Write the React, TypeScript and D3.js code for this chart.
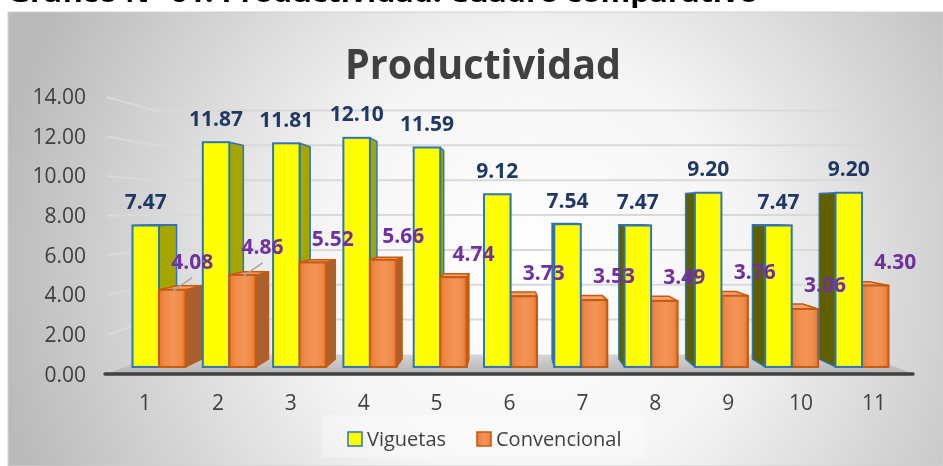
import React, { useRef, useEffect } from 'react'
import * as d3 from 'd3'

const categories = ['1', '2', '3', '4', '5', '6', '7', '8', '9', '10', '11']
const viguetas = [7.47, 11.87, 11.81, 12.10, 11.59, 9.12, 7.54, 7.47, 9.20, 7.47, 9.20]
const convencional = [4.08, 4.86, 5.52, 5.66, 4.74, 3.73, 3.53, 3.49, 3.76, 3.06, 4.30]
const yTicks = [0, 2, 4, 6, 8, 10, 12, 14]
const seriesNames = ['Viguetas', 'Convencional']
const chartTitle = 'Productividad'
const pageHeading = 'Gráfico N° 01: Productividad: Cuadro comparativo'
// labels that were dragged up in the original, with a leader line
const leaderLabels = [0, 1]

const App = () => {
    const ref = useRef<SVGSVGElement>(null)
    useEffect(() => {
        const w = 943
        const h = 466
        const svg = d3.select(ref.current)
        svg.selectAll('*').remove()
        svg.attr('width', w).attr('height', h)

        const font = "'Open Sans', 'Liberation Sans', sans-serif"
        const vp = [510, 210] // vanishing point of the 3d box
        const wallK = 0.881 // back wall relative to front plane
        const barK = 0.957 // bar front faces relative to front plane
        const depthK = 0.95 // bar depth
        const proj = (x: number, y: number, k: number) => [vp[0] + (x - vp[0]) * k, vp[1] + (y - vp[1]) * k]

        const defs = svg.append('defs')
        const bg = defs.append('radialGradient').attr('id', 'bg')
            .attr('gradientUnits', 'userSpaceOnUse')
            .attr('cx', 530).attr('cy', 270).attr('r', 540)
        bg.append('stop').attr('offset', '0%').attr('stop-color', '#ffffff')
        bg.append('stop').attr('offset', '40%').attr('stop-color', '#f5f5f5')
        bg.append('stop').attr('offset', '100%').attr('stop-color', '#bababa')

        const og = defs.append('linearGradient').attr('id', 'orange')
            .attr('x1', 0).attr('x2', 1).attr('y1', 0).attr('y2', 0)
        og.append('stop').attr('offset', '0%').attr('stop-color', '#e8772c')
        og.append('stop').attr('offset', '20%').attr('stop-color', '#ef8a47')
        og.append('stop').attr('offset', '55%').attr('stop-color', '#f29558')
        og.append('stop').attr('offset', '85%').attr('stop-color', '#ef8a47')
        og.append('stop').attr('offset', '100%').attr('stop-color', '#e37028')

        const fg = defs.append('linearGradient').attr('id', 'floor')
            .attr('x1', 0).attr('x2', 0).attr('y1', 0).attr('y2', 1)
        fg.append('stop').attr('offset', '0%').attr('stop-color', '#d6d6d6')
        fg.append('stop').attr('offset', '100%').attr('stop-color', '#b3b3b3')

        // heading of the page, cut off by the top of the picture
        svg.append('text')
            .attr('x', 8).attr('y', 2)
            .attr('textLength', 750).attr('lengthAdjust', 'spacingAndGlyphs')
            .style('font-family', font).style('font-weight', 700).style('font-size', '24px')
            .style('fill', '#000')
            .text(pageHeading)

        svg.append('rect')
            .attr('x', 8).attr('y', 12).attr('width', w - 8).attr('height', h - 12)
            .attr('fill', 'url(#bg)').attr('stroke', '#cfcfcf')

        // scales
        const yFront = d3.scaleLinear().domain([0, 14]).range([374, 97])
        const yBar = d3.scaleLinear().domain([0, 14]).range([proj(0, 374, barK)[1], proj(0, 97, barK)[1]])
        const xLabel = d3.scalePoint().domain(categories).range([145, 874])
        const xBar = d3.scalePoint().domain(categories).range([159, 862])
        const bw = 26.5
        const left = 107
        const right = 913

        // floor
        const fb = yFront(0)
        const fl = proj(left, fb, wallK)
        const fr = proj(right, fb, wallK)
        svg.append('polygon')
            .attr('points', [[left, fb], [right, fb], fr, fl].map(p => p.join(',')).join(' '))
            .attr('fill', 'url(#floor)')

        // grid lines: left wall + back wall
        const grid = svg.append('g').attr('class', 'grid-lines')
        grid.selectAll('polyline')
            .data(yTicks.filter(d => d > 0))
            .enter().append('polyline')
            .attr('points', d => {
                const yf = yFront(d)
                const a = proj(left, yf, wallK)
                const b = proj(right, yf, wallK)
                return [[left, yf], a, b].map(p => p.join(',')).join(' ')
            })
            .attr('fill', 'none')
            .style('stroke', '#d9d9d9')
            .style('stroke-width', 2)

        // y axis labels
        svg.append('g').selectAll('text')
            .data(yTicks)
            .enter().append('text')
            .attr('x', 86)
            .attr('y', d => yFront(d) + (d === 0 ? 1 : 0))
            .attr('dy', '0.35em')
            .attr('text-anchor', 'end')
            .style('font-family', font).style('font-size', '21px')
            .style('fill', '#404040')
            .text(d => d3.format('.2f')(d))

        // bars
        const styles = [
            { face: '#ffff00', top: '#ffff5a', sideR: '#a6a600', sideL: '#5f5f00', stroke: '#2e75b6' },
            { face: 'url(#orange)', top: '#f5a36c', sideR: '#a9602f', sideL: '#b5652f', stroke: '#c55a11' }
        ]
        const bars = svg.append('g')
        const drawBar = (x0: number, x1: number, v: number, s: number) => {
            const st = styles[s]
            const yT = yBar(v)
            const yB = yBar(0)
            const g = bars.append('g')
            if (x1 <= vp[0] + 1 || x0 >= vp[0] - 1) {
                const sx = x1 <= vp[0] + 1 ? x1 : x0
                const pts = [[sx, yT], proj(sx, yT, depthK), proj(sx, yB, depthK), [sx, yB]]
                g.append('polygon')
                    .attr('points', pts.map(p => p.join(',')).join(' '))
                    .attr('fill', x1 <= vp[0] + 1 ? st.sideR : st.sideL)
                    .attr('stroke', st.stroke).attr('stroke-width', 1.5)
                    .attr('stroke-linejoin', 'round')
            }
            if (yT > vp[1]) {
                const pts = [[x0, yT], [x1, yT], proj(x1, yT, depthK), proj(x0, yT, depthK)]
                g.append('polygon')
                    .attr('points', pts.map(p => p.join(',')).join(' '))
                    .attr('fill', st.top)
                    .attr('stroke', st.stroke).attr('stroke-width', 1.5)
                    .attr('stroke-linejoin', 'round')
            }
            g.append('rect')
                .attr('x', x0).attr('y', yT)
                .attr('width', x1 - x0).attr('height', yB - yT)
                .attr('fill', st.face)
                .attr('stroke', st.stroke).attr('stroke-width', 2)
        }
        categories.forEach((c, i) => {
            const cx = xBar(c) as number
            const items = [
                { x0: cx - bw, x1: cx, v: viguetas[i], s: 0 },
                { x0: cx, x1: cx + bw, v: convencional[i], s: 1 }
            ]
            if (cx > vp[0]) items.reverse()
            items.forEach(b => drawBar(b.x0, b.x1, b.v, b.s))
        })

        // front edge of the floor
        svg.append('line')
            .attr('x1', left - 2).attr('x2', right)
            .attr('y1', fb).attr('y2', fb)
            .style('stroke', '#404040').style('stroke-width', 3.5)
            .style('stroke-linecap', 'round')

        // x axis labels
        svg.append('g').selectAll('text')
            .data(categories)
            .enter().append('text')
            .attr('x', d => xLabel(d) as number)
            .attr('y', 403)
            .attr('dy', '0.35em')
            .attr('text-anchor', 'middle')
            .style('font-family', font).style('font-size', '21px')
            .style('fill', '#404040')
            .text(d => d)

        // data labels
        const fmt = d3.format('.2f')
        svg.append('g').selectAll('text')
            .data(viguetas)
            .enter().append('text')
            .attr('x', (d, i) => (xBar(categories[i]) as number) - bw / 2)
            .attr('y', d => yBar(d) - 24)
            .attr('dy', '0.35em')
            .attr('text-anchor', 'middle')
            .style('font-family', font).style('font-weight', 700).style('font-size', '21px')
            .style('fill', '#1f3864')
            .text(d => fmt(d))

        const convLabel = (d: number, i: number) => {
            const x = (xBar(categories[i]) as number) + bw / 2 + 20
            const y = yBar(d) - (leaderLabels.includes(i) ? 28 : 24)
            return [x, y]
        }
        svg.append('g').selectAll('line')
            .data(leaderLabels)
            .enter().append('line')
            .attr('x1', i => (xBar(categories[i]) as number) + bw / 2 + 1)
            .attr('y1', i => yBar(convencional[i]) + 1)
            .attr('x2', i => convLabel(convencional[i], i)[0])
            .attr('y2', i => convLabel(convencional[i], i)[1] + 16)
            .style('stroke', '#a6a6a6').style('stroke-width', 1.5)
        svg.append('g').selectAll('text')
            .data(convencional)
            .enter().append('text')
            .attr('x', (d, i) => convLabel(d, i)[0])
            .attr('y', (d, i) => convLabel(d, i)[1])
            .attr('dy', '0.35em')
            .attr('text-anchor', 'middle')
            .style('font-family', font).style('font-weight', 700).style('font-size', '21px')
            .style('fill', '#7030a0')
            .text(d => fmt(d))

        // title
        svg.append('text')
            .attr('x', 483).attr('y', 79)
            .attr('text-anchor', 'middle')
            .attr('textLength', 276).attr('lengthAdjust', 'spacingAndGlyphs')
            .style('font-family', font).style('font-weight', 700).style('font-size', '42px')
            .style('fill', '#404040')
            .text(chartTitle)

        // legend
        svg.append('rect')
            .attr('x', 322).attr('y', 415).attr('width', 323).attr('height', 42)
            .attr('fill', '#ffffff').attr('opacity', 0.35)
        const legend = svg.append('g').selectAll('g')
            .data(seriesNames)
            .enter().append('g')
            .attr('transform', (d, i) => `translate(${i === 0 ? 348 : 477}, 432)`)
        legend.append('rect')
            .attr('width', 14).attr('height', 14)
            .attr('fill', (d, i) => styles[i].face)
            .attr('stroke', (d, i) => styles[i].stroke).attr('stroke-width', 1.5)
        legend.append('text')
            .attr('x', 19).attr('y', 7)
            .attr('dy', '0.35em')
            .style('font-family', font).style('font-size', '20px')
            .style('fill', '#404040')
            .text(d => d)
    }, [])
    return (
        <div style={{ position: 'fixed', left: 0, top: 0 }}>
            <svg ref={ref} style={{ display: 'block' }}></svg>
        </div>
    )
}

export default App
